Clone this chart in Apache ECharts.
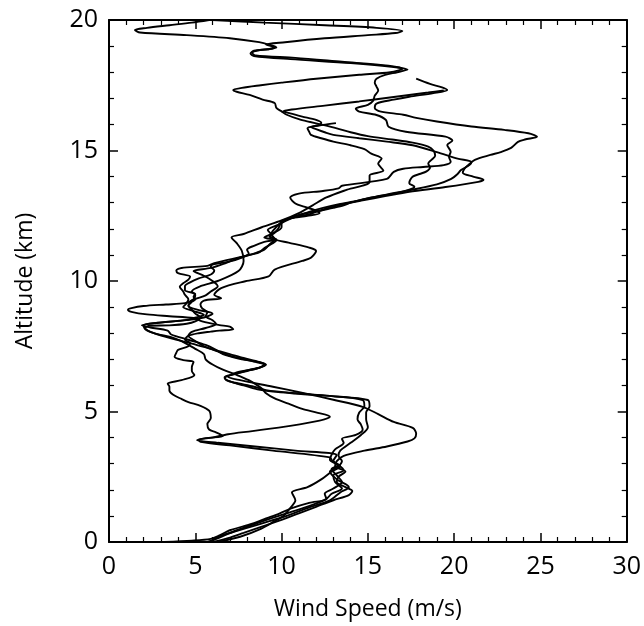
<!DOCTYPE html>
<html>
<head>
    <meta charset="utf-8">
    <script type="text/javascript" src="https://cdn.jsdelivr.net/npm/echarts@6/dist/echarts.min.js"></script>
    <title>Wind Speed Profiles</title>
</head>
<body style="margin:0">
    <div id="container" style="width:644px;height:626px;"></div>
    <script type="text/javascript">
    // axis ticks
    var xTicks = [0, 5, 10, 15, 20, 25, 30];
    var yTicks = [0, 5, 10, 15, 20];

    // five soundings: [wind speed (m/s), altitude (km)]
    var profile1 = [[6.0,0],[6.9,0.15],[7.8,0.35],[8.9,0.6],[10.0,0.85],[11.0,1.1],[12.0,1.35],[13.0,1.6],[13.9,1.8],[14.1,1.95],[13.7,2.1],[13.2,2.3],[13.3,2.5],[13.7,2.7],[13.1,2.9],[13.2,3.1],[13.6,3.3],[14.8,3.5],[16.1,3.66],[17.3,3.85],[17.7,3.97],[17.8,4.15],[17.6,4.37],[16.5,4.6],[15.6,4.9],[14.7,5.18],[13.0,5.45],[11.3,5.7],[9.5,5.95],[7.6,6.2],[6.9,6.33],[7.4,6.5],[8.4,6.62],[8.9,6.72],[9.1,6.8],[8.7,6.9],[7.8,7.05],[7.0,7.2],[5.9,7.4],[4.8,7.6],[3.6,7.8],[2.6,8.0],[2.1,8.15],[2.0,8.3],[2.6,8.38],[4.4,8.5],[5.5,8.6],[6.0,8.75],[5.1,8.9],[4.6,9.05],[4.8,9.25],[5.6,9.45],[5.9,9.6],[6.3,9.8],[6.0,10.0],[5.5,10.2],[4.9,10.38],[5.9,10.5],[6.8,10.7],[7.6,10.9],[8.4,11.05],[9.0,11.2],[9.3,11.4],[9.6,11.6],[9.4,11.8],[9.6,12.0],[9.9,12.2],[10.4,12.38],[11.1,12.55],[12.2,12.7],[13.3,12.9],[14.7,13.09],[16.0,13.25],[17.4,13.42],[19.5,13.6],[21.4,13.8],[21.7,13.88],[21.1,14.0],[20.5,14.15],[20.6,14.3],[20.8,14.43],[21.2,14.64],[22.1,14.83],[22.7,14.94],[23.3,15.1],[23.7,15.33],[24.1,15.42],[24.8,15.53],[24.3,15.66],[22.9,15.79],[21.0,15.92],[19.0,16.11],[17.8,16.25],[17.05,16.37],[15.7,16.5],[15.4,16.63],[15.5,16.8],[16.5,16.95],[17.4,17.06],[18.8,17.2],[19.6,17.32],[19.3,17.42],[18.6,17.55],[17.8,17.75]];

    var profile2 = [[5.7,0],[6.5,0.2],[7.4,0.45],[8.5,0.7],[9.6,0.95],[10.8,1.2],[11.9,1.45],[12.6,1.65],[12.9,1.85],[13.5,2.05],[13.1,2.3],[13.0,2.55],[13.6,2.75],[13.3,2.95],[12.8,3.15],[12.9,3.35],[13.1,3.55],[13.6,3.8],[13.5,3.95],[14.3,4.1],[14.7,4.3],[14.6,4.5],[14.4,4.7],[14.5,4.96],[14.8,5.2],[14.7,5.44],[12.8,5.6],[10.8,5.7],[9.1,5.82],[8.4,5.95],[7.3,6.1],[6.8,6.2],[6.7,6.32],[7.4,6.45],[8.1,6.59],[8.7,6.68],[9.05,6.78],[8.5,6.9],[7.5,7.03],[6.6,7.2],[6.2,7.36],[5.6,7.55],[4.6,7.75],[3.6,7.95],[3.4,8.1],[2.4,8.22],[1.9,8.3],[2.8,8.4],[4.5,8.5],[4.9,8.58],[5.5,8.7],[4.9,8.85],[4.3,9.0],[4.5,9.15],[4.6,9.3],[4.4,9.47],[4.3,9.6],[4.1,9.78],[4.3,9.91],[4.6,10.05],[4.7,10.17],[4.0,10.3],[3.9,10.4],[4.2,10.5],[5.7,10.58],[6.1,10.68],[7.9,10.96],[8.7,11.1],[9.05,11.28],[9.5,11.45],[9.7,11.55],[9.0,11.67],[9.4,11.8],[10.0,12.06],[10.0,12.25],[10.5,12.4],[11.5,12.5],[12.2,12.6],[12.0,12.7],[11.3,12.85],[10.8,12.97],[10.5,13.2],[11.0,13.35],[12.4,13.45],[13.3,13.55],[13.5,13.65],[16.1,13.91],[16.5,14.18],[17.05,14.3],[18.2,14.37],[19.4,14.44],[19.8,14.57],[19.7,14.76],[19.8,14.95],[19.6,15.21],[19.9,15.38],[19.5,15.53],[17.2,15.72],[16.2,15.91],[16.05,16.17],[15.5,16.36],[14.5,16.49],[14.3,16.6],[15.0,16.75],[15.3,16.9],[15.4,17.1],[15.6,17.3],[15.5,17.45],[15.4,17.6],[15.5,17.75],[16.0,17.9],[16.7,18.0],[17.3,18.1],[16.5,18.2],[14.0,18.35],[10.5,18.5],[8.4,18.62],[8.2,18.72],[8.4,18.82],[9.2,18.88],[9.7,18.95],[9.3,19.05],[8.7,19.15],[7.0,19.3],[4.5,19.42],[1.8,19.52],[1.5,19.62],[2.2,19.7],[3.5,19.8],[4.8,19.9],[5.8,20.0]];

    var profile3 = [[3.2,0],[4.8,0.05],[5.9,0.12],[6.4,0.25],[7.0,0.45],[8.3,0.7],[9.1,0.9],[9.9,1.1],[10.6,1.3],[11.6,1.5],[12.6,1.65],[12.5,1.85],[13.0,2.05],[13.5,2.3],[13.2,2.55],[12.9,2.8],[13.3,2.95],[13.0,3.1],[13.2,3.33],[10.8,3.5],[8.6,3.65],[6.3,3.8],[5.1,3.9],[5.6,3.98],[6.6,4.06],[6.2,4.2],[5.8,4.31],[5.7,4.52],[5.9,4.75],[5.8,5.03],[5.3,5.22],[4.6,5.36],[4.2,5.48],[3.7,5.65],[3.5,5.8],[3.5,5.95],[3.4,6.06],[4.2,6.2],[4.95,6.4],[4.8,6.55],[4.8,6.7],[4.9,6.9],[4.3,6.97],[3.8,7.1],[3.9,7.25],[4.0,7.36],[4.6,7.5],[4.7,7.62],[4.4,7.75],[4.6,7.9],[5.2,8.0],[5.9,8.06],[6.4,8.1],[7.2,8.15],[7.0,8.25],[6.4,8.31],[5.4,8.45],[4.9,8.58],[3.5,8.65],[2.2,8.72],[1.3,8.82],[1.1,8.9],[1.3,8.96],[2.0,9.04],[3.3,9.1],[4.4,9.15],[4.9,9.3],[5.0,9.45],[4.8,9.6],[5.3,9.8],[6.3,10.0],[7.5,10.38],[7.8,10.77],[7.7,11.15],[7.4,11.45],[7.1,11.67],[7.8,11.8],[8.85,12.06],[10.0,12.32],[11.0,12.6],[11.8,12.9],[12.6,13.2],[13.8,13.5],[15.1,13.79],[15.1,14.04],[15.9,14.23],[15.6,14.5],[15.8,14.69],[15.2,14.88],[14.8,15.05],[14.0,15.2],[13.0,15.34],[12.3,15.47],[11.7,15.6],[11.6,15.72],[11.5,15.85],[12.2,15.98],[12.3,16.06],[12.0,16.17],[11.2,16.3],[10.5,16.42],[10.1,16.5],[10.6,16.57],[12.5,16.72],[14.5,16.88],[16.5,17.05],[18.5,17.22],[19.4,17.3]];

    var profile4 = [[6.3,0],[7.6,0.2],[8.8,0.5],[9.6,0.8],[10.1,1.0],[10.5,1.3],[10.8,1.6],[10.6,1.9],[11.5,2.1],[12.3,2.4],[12.9,2.7],[13.4,2.9],[12.95,3.1],[12.8,3.24],[9.5,3.5],[7.0,3.7],[5.3,3.84],[5.2,3.92],[6.0,4.0],[6.9,4.13],[8.3,4.25],[10.5,4.45],[12.2,4.65],[12.8,4.8],[12.1,4.95],[11.2,5.1],[10.4,5.3],[9.6,5.5],[9.1,5.7],[8.9,5.85],[8.6,6.0],[8.1,6.2],[7.4,6.4],[6.6,6.6],[6.0,6.8],[5.6,7.0],[5.5,7.2],[5.0,7.4],[4.6,7.55],[4.2,7.7],[3.6,7.85],[2.6,8.0],[2.1,8.2],[2.3,8.28],[3.5,8.3],[4.5,8.36],[5.0,8.45],[5.3,8.6],[5.0,8.75],[4.8,8.9],[4.6,9.05],[4.8,9.2],[5.0,9.3],[4.9,9.4],[5.0,9.5],[4.4,9.65],[4.4,9.8],[4.7,9.95],[5.2,10.1],[5.9,10.25],[6.1,10.4],[5.9,10.55],[6.0,10.63],[7.0,10.75],[7.7,10.9],[8.1,11.05],[8.0,11.2],[8.4,11.35],[9.0,11.5],[9.7,11.6],[9.3,11.7],[9.6,11.85],[9.8,12.0],[9.9,12.15],[10.0,12.3],[10.8,12.45],[11.6,12.55],[12.0,12.65],[13.0,12.8],[13.6,12.9],[14.0,13.0],[15.2,13.2],[16.5,13.35],[17.4,13.5],[17.7,13.61],[17.4,13.75],[17.45,13.87],[17.6,14.0],[18.0,14.1],[18.4,14.2],[18.6,14.35],[18.5,14.5],[18.7,14.65],[18.9,14.8],[18.8,15.0],[18.5,15.15],[17.6,15.3],[16.4,15.42],[15.0,15.55],[14.0,15.7],[13.2,15.85],[12.4,15.98],[11.6,16.1],[11.0,16.2],[10.3,16.37],[10.0,16.5],[9.7,16.63],[9.6,16.82],[8.9,16.95],[8.15,17.13],[7.4,17.25],[7.2,17.32],[7.7,17.4],[8.8,17.5],[10.0,17.6],[12.0,17.75],[14.5,17.9],[16.3,18.0],[17.0,18.13],[16.2,18.25],[13.5,18.4],[10.8,18.55],[8.5,18.64],[8.3,18.74],[8.6,18.83],[9.4,18.9],[9.6,18.96],[9.1,19.06],[10.2,19.15],[12.5,19.3],[15.0,19.42],[16.6,19.5],[17.0,19.58],[15.5,19.7],[12.5,19.8],[9.0,19.9],[6.0,20.0]];

    var profile5 = [[5.9,0],[6.3,0.2],[7.8,0.5],[9.3,0.8],[10.3,1.0],[11.5,1.3],[12.8,1.6],[13.4,1.9],[13.9,2.1],[13.2,2.4],[12.8,2.7],[13.3,2.9],[13.5,3.1],[13.3,3.3],[13.4,3.5],[14.0,3.8],[14.6,4.1],[15.0,4.4],[14.9,4.7],[14.9,4.96],[15.1,5.2],[15.0,5.44],[13.0,5.58],[11.0,5.68],[9.5,5.76],[8.6,5.85],[7.8,6.0],[7.0,6.15],[6.7,6.28],[7.2,6.42],[8.0,6.55],[8.8,6.7],[9.0,6.82],[8.2,6.95],[7.2,7.1],[6.3,7.3],[5.5,7.5],[5.0,7.7],[4.6,7.9],[4.8,8.05],[5.6,8.2],[6.2,8.35],[6.0,8.5],[5.6,8.65],[5.7,8.8],[5.4,8.95],[5.3,9.1],[5.5,9.25],[6.5,9.34],[6.1,9.47],[6.5,9.73],[7.9,9.99],[9.25,10.18],[9.6,10.44],[11.2,10.77],[11.7,10.89],[12.0,11.15],[11.6,11.28],[10.4,11.47],[9.6,11.6],[9.4,11.8],[9.2,11.95],[9.8,12.15],[10.4,12.35],[11.0,12.5],[11.6,12.65],[12.4,12.8],[13.4,12.95],[14.6,13.1],[16.0,13.3],[17.6,13.5],[19.0,13.7],[19.8,13.9],[20.2,14.1],[20.4,14.25],[20.9,14.45],[21.0,14.56],[20.2,14.69],[19.0,14.94],[17.6,15.2],[16.1,15.34],[14.5,15.47],[13.0,15.6],[12.5,15.7],[12.0,15.82],[11.7,15.9],[12.4,15.98],[13.15,16.05]];

    var profiles = [profile1, profile2, profile3, profile4, profile5];

    var myChart = echarts.init(document.getElementById('container'));

    var font = 'Open Sans';
    var lineCol = '#000';

    function boxAxis(extra) {
        var base = {
            type: 'value',
            axisLine: { show: true, onZero: false, lineStyle: { color: lineCol, width: 2 } },
            axisTick: { show: true, inside: true, length: 9, lineStyle: { color: lineCol, width: 1.5 } },
            minorTick: { show: true, splitNumber: 5, length: 5, lineStyle: { color: lineCol, width: 1.2 } },
            splitLine: { show: false },
            minorSplitLine: { show: false }
        };
        for (var k in extra) base[k] = extra[k];
        return base;
    }

    var option = {
        animation: false,
        backgroundColor: '#fff',
        grid: { left: 109, right: 16, top: 20, bottom: 84 },
        xAxis: [
            boxAxis({
                position: 'bottom', min: xTicks[0], max: xTicks[xTicks.length - 1], interval: 5,
                name: 'Wind Speed (m/s)', nameLocation: 'middle', nameGap: 56,
                nameTextStyle: { fontFamily: font, fontSize: 23, color: '#000' },
                axisLabel: { margin: 12, fontFamily: font, fontSize: 25, color: '#000' }
            }),
            boxAxis({
                position: 'top', min: xTicks[0], max: xTicks[xTicks.length - 1], interval: 5,
                axisLabel: { show: false }
            })
        ],
        yAxis: [
            boxAxis({
                position: 'left', min: yTicks[0], max: yTicks[yTicks.length - 1], interval: 5,
                name: 'Altitude (km)', nameLocation: 'middle', nameGap: 72, nameRotate: 90,
                nameTextStyle: { fontFamily: font, fontSize: 23, color: '#000' },
                axisLabel: { margin: 11, fontFamily: font, fontSize: 25, color: '#000' }
            }),
            boxAxis({
                position: 'right', min: yTicks[0], max: yTicks[yTicks.length - 1], interval: 5,
                axisLabel: { show: false }
            })
        ],
        series: profiles.map(function (p, i) {
            return {
                name: 'Profile ' + (i + 1),
                type: 'line',
                xAxisIndex: 0,
                yAxisIndex: 0,
                data: p,
                showSymbol: false,
                symbol: 'none',
                smooth: 0.3,
                lineStyle: { color: lineCol, width: 1.9 }
            };
        })
    };

    myChart.setOption(option);
    </script>
</body>
</html>
